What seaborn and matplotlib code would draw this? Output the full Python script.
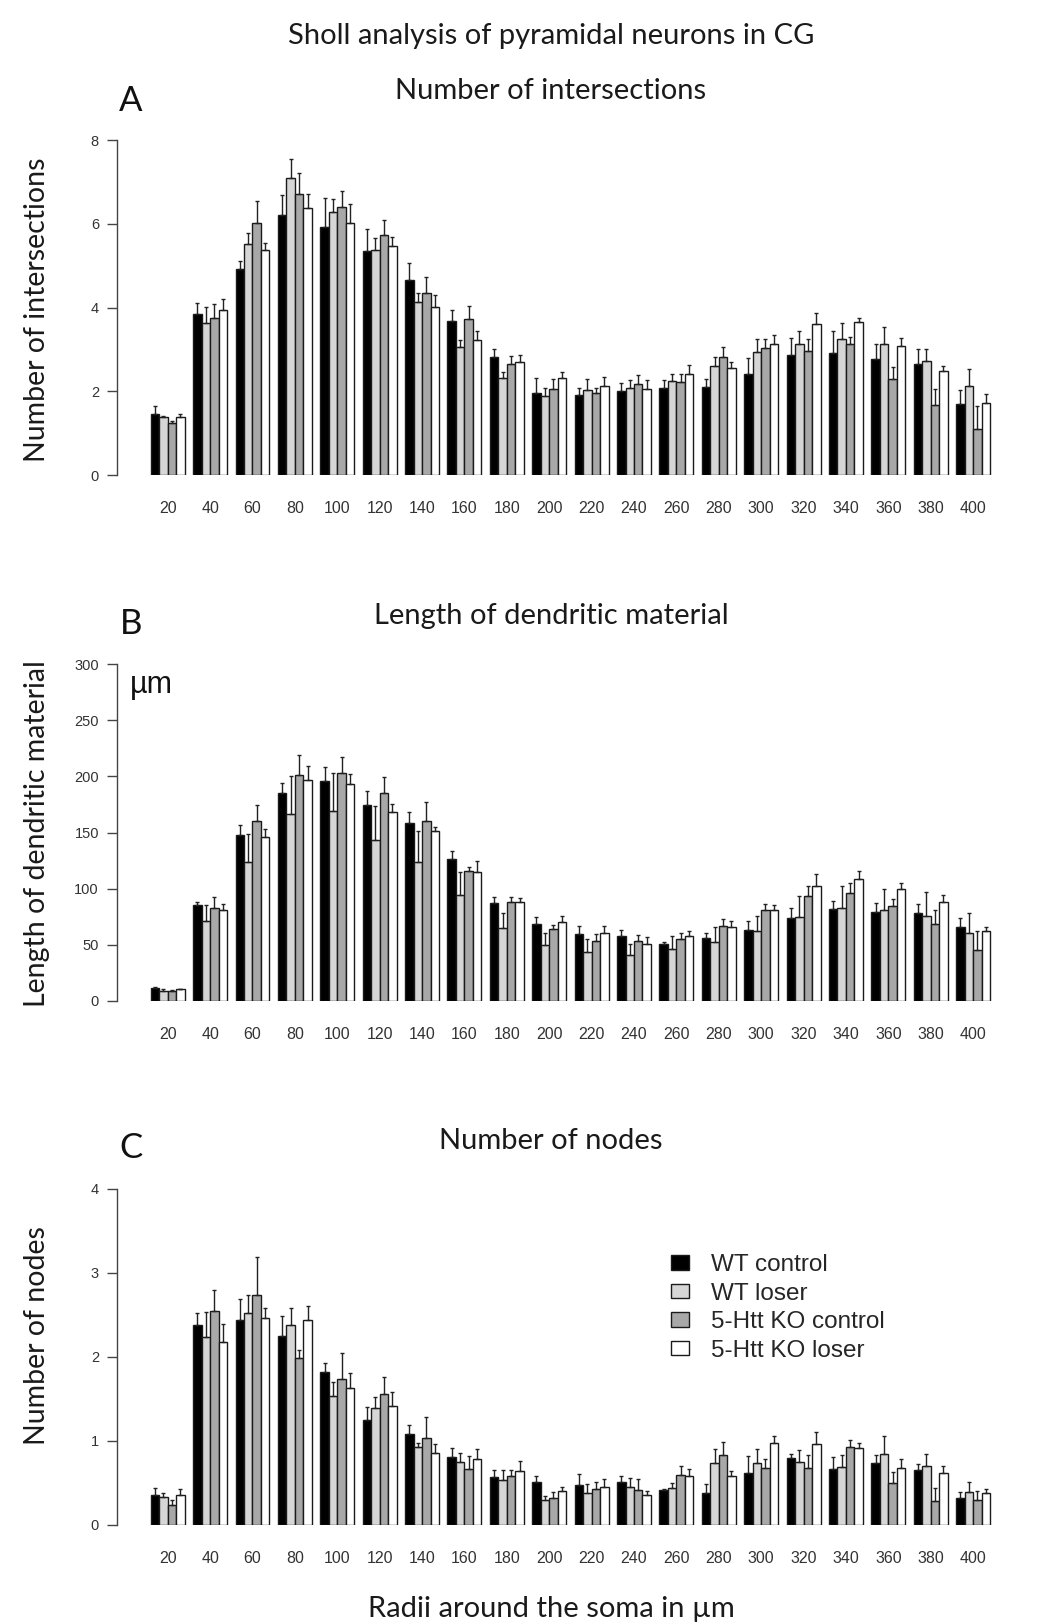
import numpy as np
import pandas as pd
import matplotlib
matplotlib.use("Agg")
import matplotlib.pyplot as plt
from matplotlib.container import BarContainer
import seaborn as sns

# ---------------- data ----------------
radii = [str(r) for r in range(20, 401, 20)]
groups = ["WT control", "WT loser", "5-Htt KO control", "5-Htt KO loser"]
colors = ["#000000", "#d6d6d6", "#a8a8a8", "#ffffff"]

# Panel A: number of intersections (mean, SE)
wt_ctrl_A = [1.45, 3.84, 4.93, 6.20, 5.93, 5.34, 4.65, 3.68, 2.82, 1.97, 1.92, 2.00, 2.08, 2.11, 2.41, 2.87, 2.92, 2.77, 2.64, 1.70]
wt_ctrl_A_se = [0.20, 0.26, 0.18, 0.48, 0.68, 0.54, 0.41, 0.26, 0.20, 0.34, 0.16, 0.19, 0.18, 0.19, 0.38, 0.41, 0.53, 0.36, 0.36, 0.33]
wt_loser_A = [1.38, 3.64, 5.51, 7.09, 6.28, 5.38, 4.12, 3.05, 2.31, 1.89, 2.02, 2.08, 2.25, 2.61, 2.94, 3.12, 3.24, 3.12, 2.72, 2.13]
wt_loser_A_se = [0.04, 0.37, 0.28, 0.46, 0.30, 0.27, 0.23, 0.18, 0.16, 0.19, 0.27, 0.18, 0.17, 0.21, 0.30, 0.33, 0.39, 0.41, 0.30, 0.39]
ko_ctrl_A = [1.24, 3.76, 6.02, 6.71, 6.40, 5.72, 4.34, 3.73, 2.66, 2.05, 1.97, 2.18, 2.21, 2.82, 3.03, 2.97, 3.12, 2.29, 1.68, 1.11]
ko_ctrl_A_se = [0.05, 0.33, 0.53, 0.51, 0.39, 0.38, 0.39, 0.31, 0.19, 0.24, 0.11, 0.20, 0.21, 0.23, 0.21, 0.27, 0.18, 0.29, 0.37, 0.54]
ko_loser_A = [1.38, 3.94, 5.37, 6.38, 6.02, 5.46, 4.02, 3.23, 2.71, 2.31, 2.13, 2.05, 2.41, 2.56, 3.12, 3.60, 3.66, 3.09, 2.49, 1.73]
ko_loser_A_se = [0.07, 0.27, 0.16, 0.32, 0.46, 0.23, 0.27, 0.20, 0.16, 0.16, 0.20, 0.21, 0.21, 0.13, 0.23, 0.26, 0.09, 0.17, 0.12, 0.20]

# Panel B: length of dendritic material (µm)
wt_ctrl_B = [11.9, 85.5, 147.6, 185.6, 195.7, 174.9, 158.9, 126.5, 87.3, 68.3, 59.7, 57.9, 50.5, 55.8, 63.6, 74.3, 81.7, 79.6, 78.7, 65.6]
wt_ctrl_B_se = [0.9, 3.0, 9.5, 8.6, 12.8, 11.6, 9.2, 6.6, 5.1, 6.5, 7.4, 5.4, 2.4, 4.8, 7.7, 8.6, 7.7, 7.7, 7.7, 8.7]
wt_loser_B = [9.2, 71.3, 123.8, 166.6, 169.0, 143.5, 123.6, 94.7, 65.3, 49.6, 43.4, 40.7, 46.3, 52.9, 62.4, 75.1, 82.9, 80.8, 75.7, 60.9]
wt_loser_B_se = [1.8, 14.2, 24.7, 33.3, 34.4, 29.9, 27.6, 20.2, 13.4, 11.3, 11.5, 10.4, 11.9, 12.7, 13.3, 18.2, 19.6, 19.0, 21.1, 17.8]
ko_ctrl_B = [9.2, 82.6, 159.8, 200.8, 202.6, 185.6, 159.8, 116.1, 87.9, 63.9, 53.2, 53.2, 54.9, 66.5, 80.8, 93.9, 95.9, 84.6, 68.3, 45.4]
ko_ctrl_B_se = [0.5, 9.8, 14.5, 18.1, 14.5, 13.7, 17.2, 3.6, 5.1, 3.5, 6.5, 5.6, 5.7, 6.9, 5.6, 8.6, 9.5, 6.0, 12.5, 17.3]
ko_loser_B = [10.4, 80.8, 146.4, 196.9, 193.0, 168.1, 151.2, 114.9, 87.9, 70.4, 60.9, 51.1, 57.9, 65.6, 80.8, 102.5, 109.0, 99.8, 87.9, 62.7]
ko_loser_B_se = [0.3, 5.9, 6.9, 12.5, 8.7, 7.1, 3.5, 9.8, 3.6, 5.3, 6.2, 5.9, 4.5, 5.7, 4.4, 10.4, 7.1, 5.6, 6.8, 2.9]

# Panel C: number of nodes
wt_ctrl_C = [0.357, 2.377, 2.44, 2.25, 1.817, 1.246, 1.079, 0.813, 0.575, 0.512, 0.472, 0.508, 0.421, 0.385, 0.623, 0.798, 0.663, 0.738, 0.651, 0.317]
wt_ctrl_C_se = [0.087, 0.147, 0.25, 0.242, 0.115, 0.155, 0.115, 0.108, 0.076, 0.075, 0.139, 0.079, 0.012, 0.103, 0.202, 0.051, 0.15, 0.099, 0.075, 0.076]
wt_loser_C = [0.329, 2.234, 2.524, 2.377, 1.536, 1.389, 0.929, 0.746, 0.536, 0.294, 0.385, 0.456, 0.44, 0.734, 0.734, 0.75, 0.687, 0.849, 0.702, 0.393]
wt_loser_C_se = [0.052, 0.306, 0.218, 0.202, 0.162, 0.139, 0.047, 0.107, 0.115, 0.055, 0.099, 0.104, 0.06, 0.171, 0.167, 0.139, 0.15, 0.207, 0.147, 0.115]
ko_ctrl_C = [0.242, 2.552, 2.742, 1.992, 1.738, 1.563, 1.032, 0.663, 0.583, 0.317, 0.433, 0.417, 0.595, 0.833, 0.675, 0.675, 0.925, 0.5, 0.282, 0.294]
ko_ctrl_C_se = [0.052, 0.242, 0.445, 0.087, 0.31, 0.203, 0.254, 0.154, 0.068, 0.076, 0.075, 0.131, 0.103, 0.151, 0.115, 0.162, 0.091, 0.135, 0.162, 0.111]
ko_loser_C = [0.357, 2.175, 2.46, 2.44, 1.627, 1.413, 0.853, 0.79, 0.639, 0.405, 0.456, 0.357, 0.583, 0.583, 0.976, 0.964, 0.913, 0.675, 0.623, 0.381]
ko_loser_C_se = [0.076, 0.214, 0.127, 0.163, 0.179, 0.174, 0.111, 0.115, 0.123, 0.051, 0.092, 0.048, 0.088, 0.064, 0.08, 0.139, 0.063, 0.115, 0.075, 0.048]

yticks_A = [0, 2, 4, 6, 8]
yticks_B = [0, 50, 100, 150, 200, 250, 300]
yticks_C = [0, 1, 2, 3, 4]

# ---------------- figure ----------------
sns.set_style("white")
plt.rcParams["font.family"] = ["Liberation Sans", "DejaVu Sans"]

W, H = 1051, 1623
fig = plt.figure(figsize=(W / 100, H / 100), dpi=100)
TITLE_FONT = ["Lato", "DejaVu Sans"]


def px_axes(left, top, right, bottom):
    return fig.add_axes([left / W, 1 - bottom / H, (right - left) / W, (bottom - top) / H])


panels = [
    ([wt_ctrl_A, wt_loser_A, ko_ctrl_A, ko_loser_A],
     [wt_ctrl_A_se, wt_loser_A_se, ko_ctrl_A_se, ko_loser_A_se], yticks_A, 140, 475),
    ([wt_ctrl_B, wt_loser_B, ko_ctrl_B, ko_loser_B],
     [wt_ctrl_B_se, wt_loser_B_se, ko_ctrl_B_se, ko_loser_B_se], yticks_B, 664, 1001),
    ([wt_ctrl_C, wt_loser_C, ko_ctrl_C, ko_loser_C],
     [wt_ctrl_C_se, wt_loser_C_se, ko_ctrl_C_se, ko_loser_C_se], yticks_C, 1189, 1525),
]

axes = []
for k, (means, ses, yt, top, bottom) in enumerate(panels):
    ax = px_axes(117, top, 1000, bottom)
    rows = []
    for g, vals in zip(groups, means):
        for r, v in zip(radii, vals):
            rows.append({"radius": r, "group": g, "value": v})
    df = pd.DataFrame(rows)
    sns.barplot(data=df, x="radius", y="value", hue="group", order=radii,
                hue_order=groups, palette=dict(zip(groups, colors)),
                edgecolor="#1a1a1a", linewidth=1.0, saturation=1,
                errorbar=None, width=0.8, gap=0, legend=(k == 2), ax=ax)
    bar_conts = [c for c in ax.containers if isinstance(c, BarContainer)]
    for i, cont in enumerate(bar_conts):
        xs = [b.get_x() + b.get_width() / 2 for b in cont]
        hs = [b.get_height() for b in cont]
        ax.errorbar(xs, hs, yerr=[np.zeros(len(xs)), ses[i]], fmt="none",
                    ecolor="#222222", elinewidth=1.0, capsize=1.6, capthick=1.0,
                    zorder=3)
    ax.set_xlim(-1.196, 19.634)
    ax.set_ylim(0, yt[-1])
    ax.set_yticks(yt)
    ax.set_xlabel("")
    ax.set_ylabel("")
    for s in ["top", "right", "bottom"]:
        ax.spines[s].set_visible(False)
    ax.spines["left"].set_bounds(0, yt[-1])
    ax.spines["left"].set_color("#444444")
    ax.spines["left"].set_linewidth(1.0)
    ax.tick_params(axis="x", length=0, pad=18.5, labelsize=11.5, labelcolor="#333333")
    ax.tick_params(axis="y", length=7, width=1.0, color="#444444", pad=6,
                   labelsize=10.5, labelcolor="#333333", left=True)
    ax.patch.set_alpha(0)
    axes.append(ax)

# legend in panel C
axC = axes[2]
handles, labels = axC.get_legend_handles_labels()
axC.legend(handles, labels, loc="upper left",
           bbox_to_anchor=(671 / W, 1 - 1254 / H), bbox_transform=fig.transFigure,
           frameon=False, fontsize=17.5, handlelength=0.75, handleheight=0.55,
           handletextpad=0.9, labelspacing=0.27, borderpad=0, borderaxespad=0)

# texts
fig.text(551 / W, 1 - 36 / H, "Sholl analysis of pyramidal neurons in CG",
         ha="center", va="center", fontsize=21, family=TITLE_FONT, color="#1a1a1a")
fig.text(551 / W, 1 - 91 / H, "Number of intersections", ha="center", va="center",
         fontsize=21, family=TITLE_FONT, color="#1a1a1a")
fig.text(551 / W, 1 - 616 / H, "Length of dendritic material", ha="center", va="center",
         fontsize=21, family=TITLE_FONT, color="#1a1a1a")
fig.text(551 / W, 1 - 1141 / H, "Number of nodes", ha="center", va="center",
         fontsize=21, family=TITLE_FONT, color="#1a1a1a")
for letter, y in [("A", 101), ("B", 624), ("C", 1148)]:
    fig.text(131 / W, 1 - y / H, letter, ha="center", va="center",
             fontsize=25, family=TITLE_FONT, color="#111111")
for label, y in [("Number of intersections", 310), ("Length of dendritic material", 834),
                 ("Number of nodes", 1336)]:
    fig.text(37 / W, 1 - y / H, label, ha="center", va="center", rotation=90,
             fontsize=20.5, family=TITLE_FONT, color="#1a1a1a")
fig.text(551 / W, 1 - 1609 / H, "Radii around the soma in µm", ha="center", va="center",
         fontsize=21, family=TITLE_FONT, color="#1a1a1a")
fig.text(151 / W, 1 - 685 / H, "µm", ha="center", va="center", fontsize=22,
         family=["Liberation Sans", "DejaVu Sans"], color="#111111")

fig.savefig("out.png", dpi=100)
